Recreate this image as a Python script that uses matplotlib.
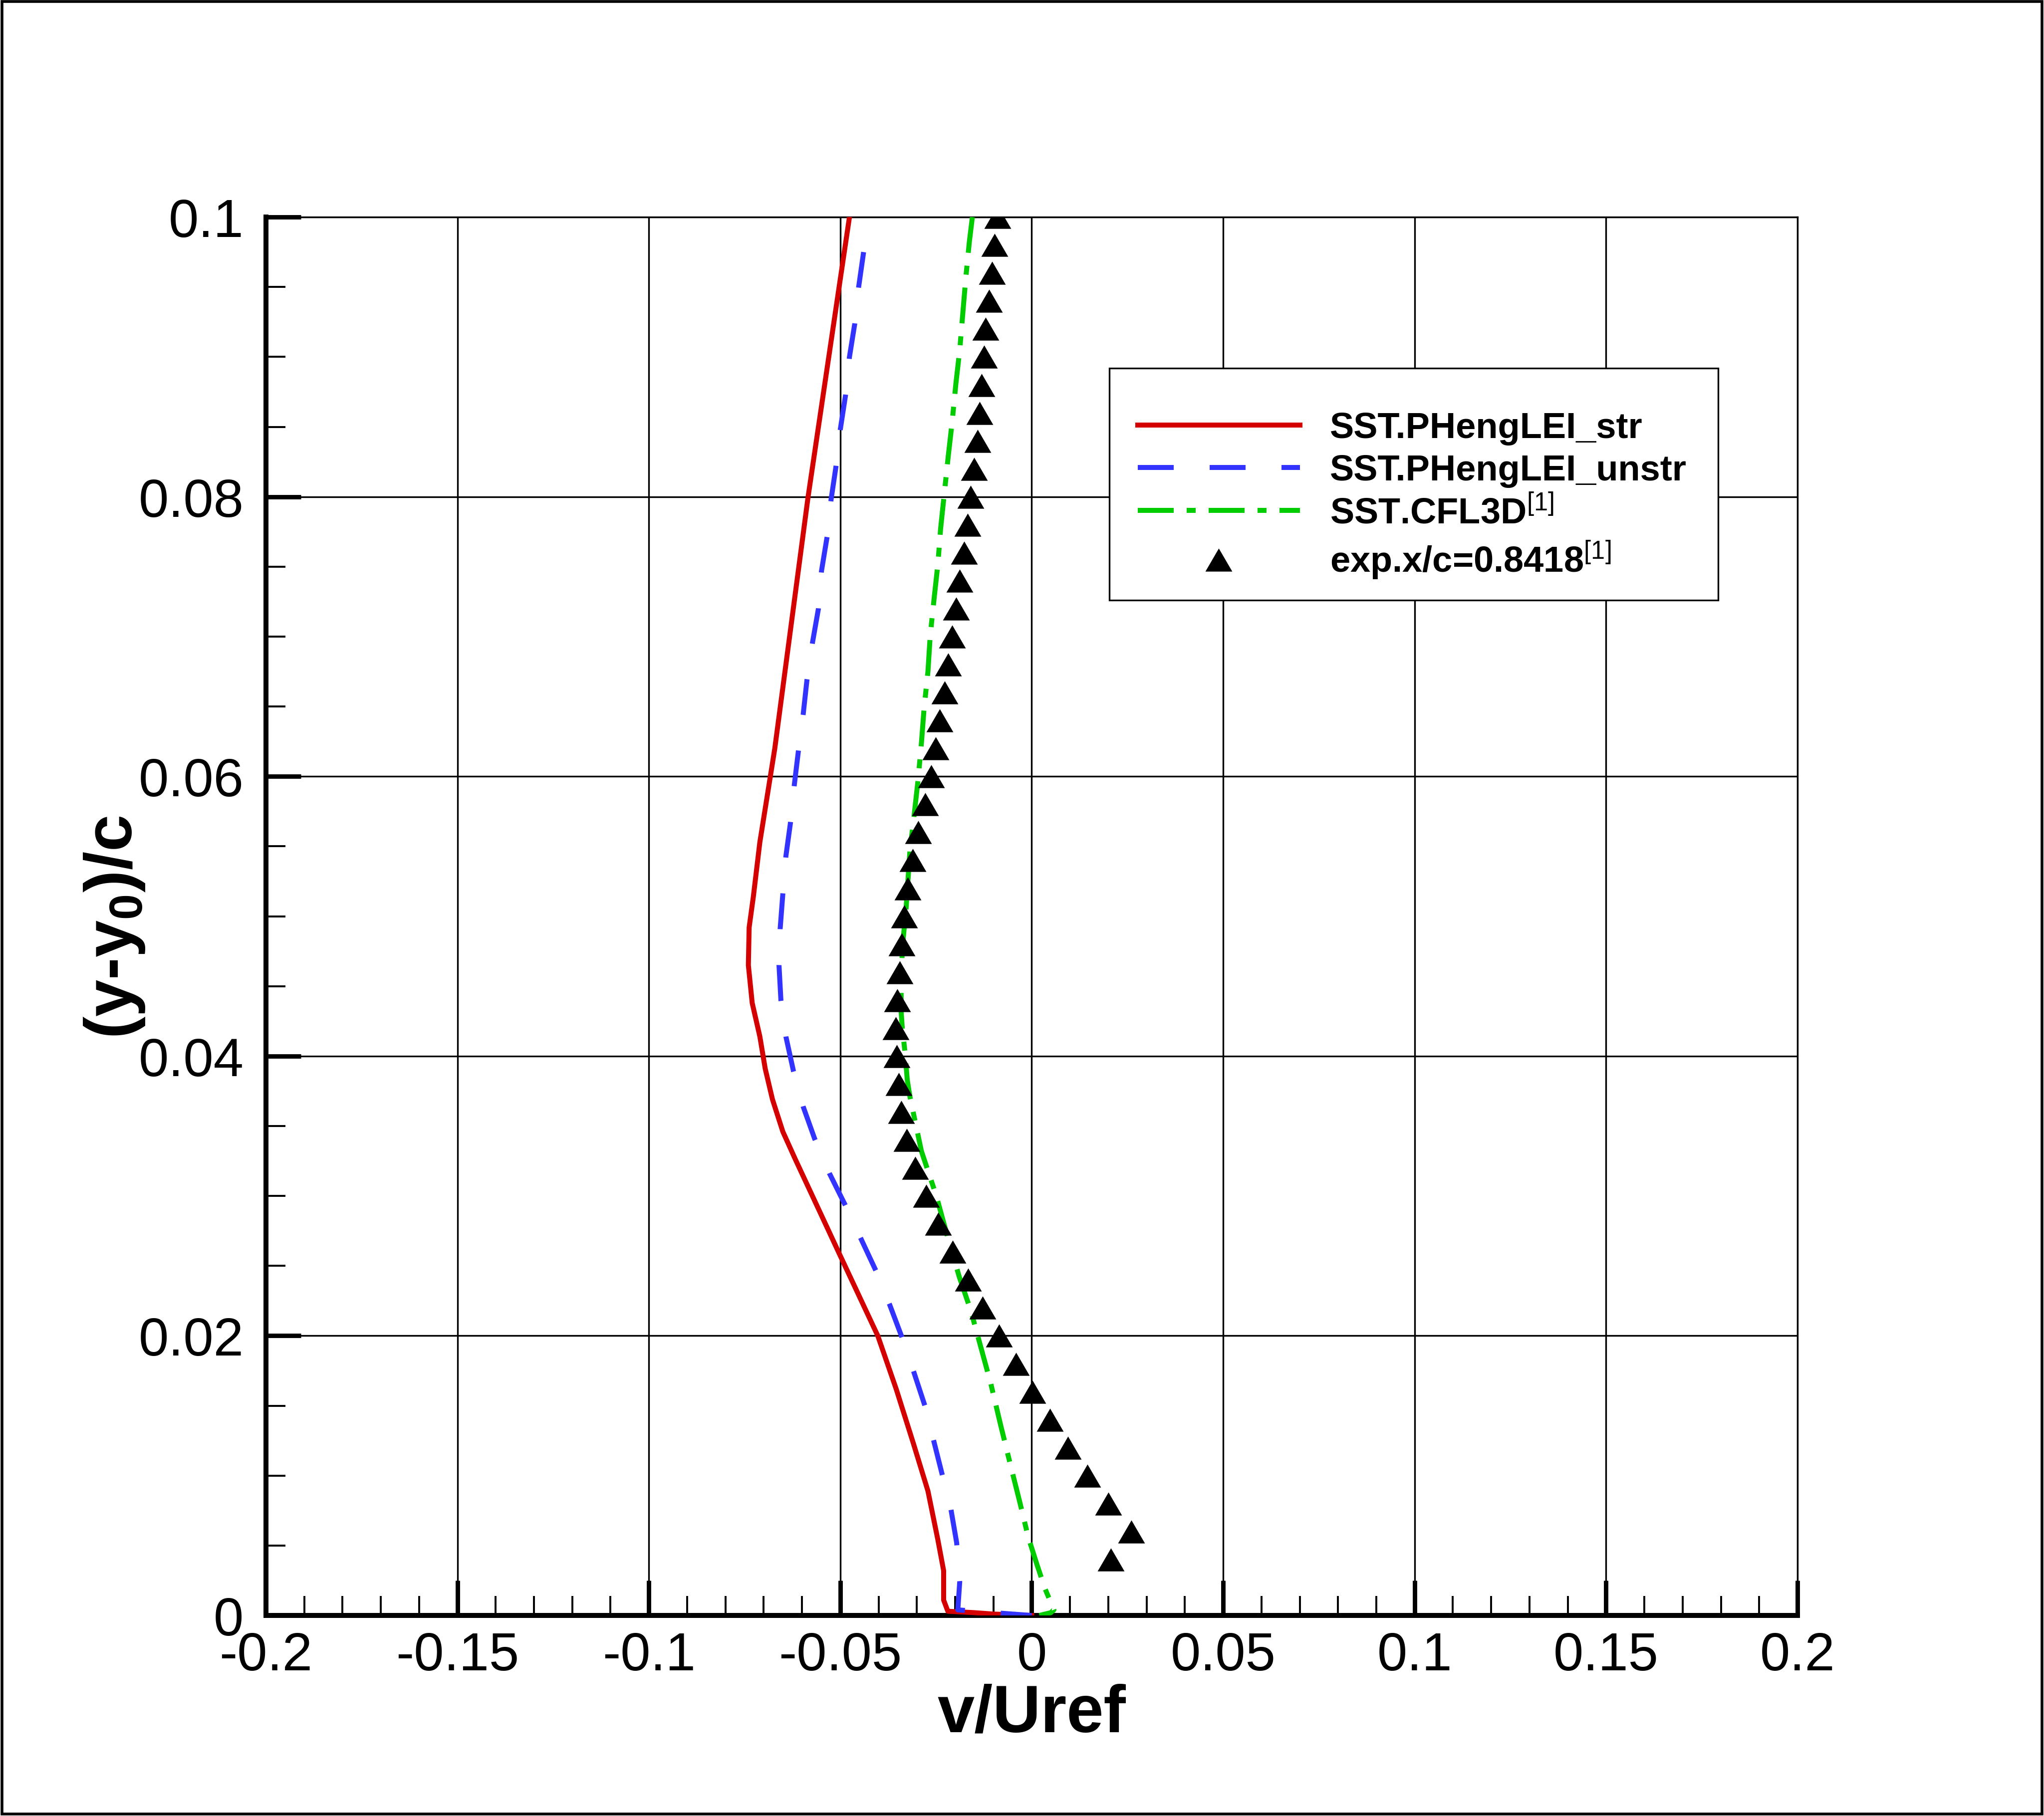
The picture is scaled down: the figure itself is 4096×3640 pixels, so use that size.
import numpy as np
import matplotlib
matplotlib.use("Agg")
import matplotlib.pyplot as plt
from matplotlib.patches import Rectangle
from matplotlib.ticker import MultipleLocator, FixedLocator

plt.rcParams['font.family'] = ['Liberation Sans', 'DejaVu Sans']
plt.rcParams['mathtext.fontset'] = 'custom'
plt.rcParams['mathtext.rm'] = 'Liberation Sans'
plt.rcParams['mathtext.bf'] = 'Liberation Sans:bold'
plt.rcParams['mathtext.it'] = 'Liberation Sans:italic'

# ---------------- data ----------------
str_y = [0.1000, 0.0800, 0.0620, 0.0589, 0.0553, 0.0514, 0.0492, 0.0465, 0.0438, 0.0414,
         0.0391, 0.0369, 0.0346, 0.0326, 0.0299, 0.0259, 0.0200, 0.0162, 0.0123, 0.0089,
         0.0054, 0.0032, 0.0011, 0.0003, 0.0002, 0.0001, 0.0000]
str_v = [-0.0476, -0.0584, -0.0671, -0.0689, -0.0710, -0.0727, -0.0738, -0.0740, -0.0730, -0.0710,
         -0.0696, -0.0677, -0.0650, -0.0617, -0.0571, -0.0503, -0.0402, -0.0354, -0.0309, -0.0271,
         -0.0245, -0.0230, -0.0230, -0.0219, -0.0150, -0.0100, 0.0000]

unstr_y = [0.0975, 0.0950, 0.0924, 0.0900, 0.0873, 0.0848, 0.0822, 0.0798, 0.0772, 0.0747,
           0.0720, 0.0695, 0.0669, 0.0644, 0.0619, 0.0594, 0.0567, 0.0543, 0.0516, 0.0491,
           0.0465, 0.0440, 0.0414, 0.0389, 0.0364, 0.0341, 0.0316, 0.0294, 0.0270, 0.0246,
           0.0223, 0.0199, 0.0175, 0.0150, 0.0125, 0.0101, 0.0076, 0.0052, 0.0024, 0.0004,
           0.0002, 0.0000]
unstr_v = [-0.0439, -0.0452, -0.0462, -0.0476, -0.0486, -0.0500, -0.0511, -0.0524, -0.0534, -0.0549,
           -0.0557, -0.0573, -0.0587, -0.0597, -0.0609, -0.0620, -0.0630, -0.0642, -0.0650, -0.0657,
           -0.0660, -0.0655, -0.0642, -0.0622, -0.0597, -0.0567, -0.0528, -0.0488, -0.0447, -0.0406,
           -0.0372, -0.0339, -0.0309, -0.0279, -0.0256, -0.0234, -0.0211, -0.0196, -0.0188, -0.0193,
           -0.0100, 0.0000]

cfl3d_y = [0.1000, 0.0982, 0.0957, 0.0931, 0.0905, 0.0881, 0.0853, 0.0829, 0.0803, 0.0777,
           0.0752, 0.0727, 0.0701, 0.0675, 0.0649, 0.0624, 0.0597, 0.0570, 0.0547, 0.0506,
           0.0477, 0.0446, 0.0432, 0.0420, 0.0403, 0.0383, 0.0371, 0.0354, 0.0332, 0.0318,
           0.0300, 0.0270, 0.0242, 0.0218, 0.0192, 0.0166, 0.0136, 0.0106, 0.0082, 0.0056,
           0.0037, 0.0019, 0.0004, 0.0002, 0.0000]
cfl3d_v = [-0.0155, -0.0163, -0.0172, -0.0180, -0.0188, -0.0198, -0.0208, -0.0218, -0.0228, -0.0238,
           -0.0245, -0.0255, -0.0265, -0.0271, -0.0281, -0.0288, -0.0297, -0.0308, -0.0318, -0.0328,
           -0.0338, -0.0341, -0.0341, -0.0338, -0.0331, -0.0325, -0.0318, -0.0305, -0.0288, -0.0271,
           -0.0249, -0.0219, -0.0189, -0.0159, -0.0133, -0.0107, -0.0081, -0.0054, -0.0032, -0.0009,
           0.0013, 0.0035, 0.0058, 0.0050, 0.0020]

exp_y = [0.004, 0.006, 0.008, 0.010, 0.012, 0.014, 0.016, 0.018, 0.020, 0.022,
         0.024, 0.026, 0.028, 0.030, 0.032, 0.034, 0.036, 0.038, 0.040, 0.042,
         0.044, 0.046, 0.048, 0.050, 0.052, 0.054, 0.056, 0.058, 0.060, 0.062,
         0.064, 0.066, 0.068, 0.070, 0.072, 0.074, 0.076, 0.078, 0.080, 0.082,
         0.084, 0.086, 0.088, 0.090, 0.092, 0.094, 0.096, 0.098, 0.100]
exp_v = [0.0207, 0.0260, 0.0200, 0.0145, 0.0094, 0.0047, 0.0002, -0.0041, -0.0085, -0.0128,
         -0.0166, -0.0206, -0.0244, -0.0276, -0.0304, -0.0327, -0.0341, -0.0347, -0.0353, -0.0355,
         -0.0351, -0.0345, -0.0339, -0.0333, -0.0324, -0.0311, -0.0297, -0.0278, -0.0263, -0.0251,
         -0.0240, -0.0228, -0.0218, -0.0208, -0.0198, -0.0188, -0.0177, -0.0168, -0.0160, -0.0150,
         -0.0142, -0.0136, -0.0131, -0.0125, -0.0120, -0.0112, -0.0103, -0.0097, -0.0089]

labels = ["SST.PHengLEI_str", "SST.PHengLEI_unstr",
          r"SST.CFL3D$^{\mathrm{[1]}}$", r"exp.x/c=0.8418$^{\mathrm{[1]}}$"]

xticks = [-0.2, -0.15, -0.1, -0.05, 0, 0.05, 0.1, 0.15, 0.2]
xticklabels = ["-0.2", "-0.15", "-0.1", "-0.05", "0", "0.05", "0.1", "0.15", "0.2"]
yticks = [0, 0.02, 0.04, 0.06, 0.08, 0.1]
yticklabels = ["0", "0.02", "0.04", "0.06", "0.08", "0.1"]

# ---------------- figure ----------------
fig = plt.figure(figsize=(10.24, 9.1025), dpi=400)
ax = fig.add_axes([0.1301, 0.1104, 0.7493, 0.7698])

lw = 1.8
ax.plot(str_v, str_y, color='#D40000', lw=lw, label=labels[0], zorder=3)
ax.plot(unstr_v, unstr_y, color='#3333FF', lw=lw, dashes=(7.2, 7.2), label=labels[1], zorder=3)
ax.plot(cfl3d_v, cfl3d_y, color='#00CC00', lw=lw, dashes=(7.2, 2.6, 1.8, 2.6), label=labels[2], zorder=3)
tri = [(0, 0.86), (-1, -0.86), (1, -0.86), (0, 0.86)]
ax.plot(exp_v, exp_y, linestyle='none', marker=tri, markersize=9.7, color='black',
        markeredgewidth=0, label=labels[3], zorder=4)

ax.set_xlim(-0.2, 0.2)
ax.set_ylim(0, 0.1)
ax.xaxis.set_major_locator(FixedLocator(xticks))
ax.set_xticklabels(xticklabels)
ax.yaxis.set_major_locator(FixedLocator(yticks))
ax.set_yticklabels(yticklabels)
ax.xaxis.set_minor_locator(MultipleLocator(0.01))
ax.yaxis.set_minor_locator(MultipleLocator(0.005))

ax.tick_params(which='major', direction='in', length=12.6, width=1.6, labelsize=19.5,
               top=False, right=False)
ax.tick_params(axis='x', which='major', pad=5.5)
ax.tick_params(axis='y', which='major', pad=8)
ax.tick_params(which='minor', direction='in', length=7, width=0.7, top=False, right=False)

ax.grid(True, which='major', color='black', lw=0.6)
for s in ['left', 'bottom']:
    ax.spines[s].set_linewidth(1.8)
for s in ['top', 'right']:
    ax.spines[s].set_linewidth(0.6)

ax.set_xlabel("v/Uref", fontsize=24, fontweight='bold')
ax.xaxis.set_label_coords(0.5, -0.0482)
ax.set_ylabel(r"(y-y$_{\mathbf{0}}$)/c", fontsize=24, fontweight='bold')
ax.yaxis.set_label_coords(-0.0779, 0.4925)

# legend box drawn separately, legend entries placed inside it
box = Rectangle((0.5507, 0.7260), 0.3975, 0.1659, transform=ax.transAxes,
                facecolor='white', edgecolor='black', lw=0.6, zorder=5)
ax.add_patch(box)
leg = ax.legend(loc='upper left', bbox_to_anchor=(0.5692, 0.8612),
                borderaxespad=0, borderpad=0,
                prop={'weight': 'bold', 'size': 13},
                handlelength=4.5, handletextpad=0.83, labelspacing=0.23,
                frameon=False)
leg.set_zorder(6)

fig.patches.append(Rectangle((0.001, 0.001), 0.998, 0.998, transform=fig.transFigure,
                             fill=False, edgecolor='black', lw=1.0))

fig.savefig("out.png", dpi=400)
